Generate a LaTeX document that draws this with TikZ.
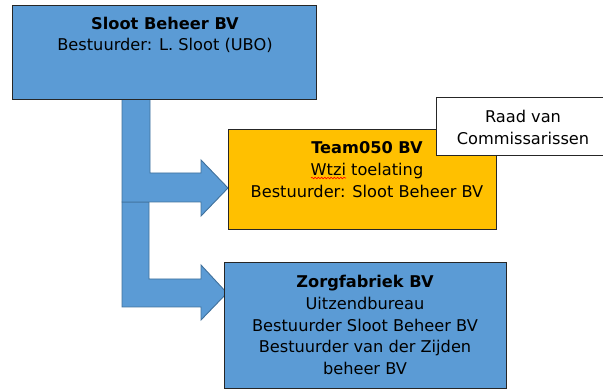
\documentclass[tikz,border=0pt]{standalone}
\usepackage{fontspec}
\setmainfont{DejaVu Sans}
\usetikzlibrary{positioning,decorations.pathmorphing}
\definecolor{boxBlue}{RGB}{91,155,213}
\definecolor{arrowEdge}{RGB}{65,113,156}
\definecolor{teamOrange}{RGB}{255,192,0}
\colorlet{edgeDark}{black!85}

\begin{document}
\begin{tikzpicture}[x=1pt,y=-1pt,
        box/.style={draw=edgeDark,line width=0.9pt,rectangle,anchor=north west,
          inner sep=0pt,outer sep=0pt},
        bluebox/.style={box,fill=boxBlue},
        blockarrow/.style={fill=boxBlue,draw=arrowEdge,line width=0.9pt,line join=miter},
        txt/.style={align=center,font=\fontsize{16.2}{21.8}\selectfont,inner sep=0pt}
      ]
        \useasboundingbox (0,0) rectangle (603,390);

        % De twee blokpijlen vanuit de holding.
        \draw[blockarrow] (122,202) -- (149,202) -- (149,279) -- (201,279)
          -- (201,265) -- (227,293) -- (201,320) -- (201,307) -- (122,307) -- cycle;
        \draw[blockarrow] (122,99) -- (150,99) -- (150,173) -- (201,173)
          -- (201,160) -- (228,188) -- (201,216) -- (201,202) -- (122,202) -- cycle;

        % Holding.
        \node[bluebox,minimum width=304,minimum height=94] (sloot) at (12,5) {};
        \node[txt] (slootTxt) at (165,35)
          {\textbf{Sloot Beheer BV}\\Bestuurder: L. Sloot (UBO)};

        % Werkmaatschappijen.
        \node[box,fill=teamOrange,minimum width=268,minimum height=100] (team) at (228,129) {};
        \node[txt] (teamTxt) at (367,169.5)
          {\textbf{Team050 BV}\\Wtzi toelating\\Bestuurder: Sloot Beheer BV};
        \draw[red,line width=0.6pt,decorate,
          decoration={snake,amplitude=0.8pt,segment length=3.2pt}] (311,178) -- (346,178);

        \node[bluebox,minimum width=282,minimum height=126] (zorg) at (224,262) {};
        \node[txt] (zorgTxt) at (365,325)
          {\textbf{Zorgfabriek BV}\\Uitzendbureau\\Bestuurder Sloot Beheer BV\\
          Bestuurder van der Zijden\\beheer BV};

        % Toezicht.
        \node[box,fill=white,minimum width=174,minimum height=58] (raad) at (436,97) {};
        \node[txt] (raadTxt) at (523,127.5) {Raad van\\Commissarissen};
      \end{tikzpicture}
\end{document}
